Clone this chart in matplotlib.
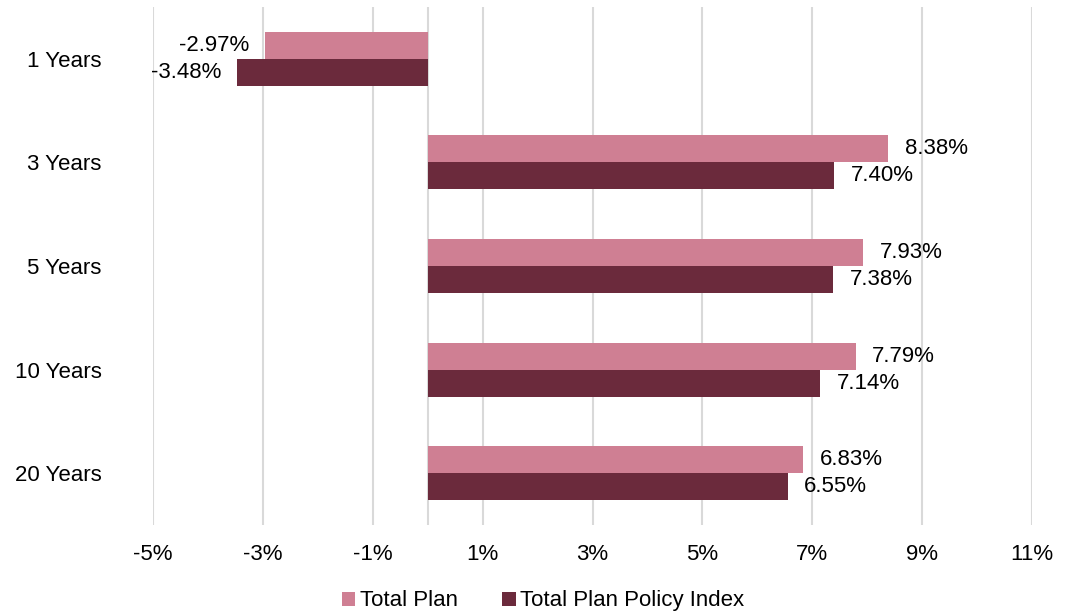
import matplotlib
matplotlib.use("Agg")
import matplotlib.pyplot as plt
import numpy as np

categories = ["1 Years", "3 Years", "5 Years", "10 Years", "20 Years"]
total_plan = [-2.97, 8.38, 7.93, 7.79, 6.83]
policy_index = [-3.48, 7.40, 7.38, 7.14, 6.55]
series_names = ["Total Plan", "Total Plan Policy Index"]
xticks = [-5, -3, -1, 1, 3, 5, 7, 9, 11]

plt.rcParams['font.family'] = ['Liberation Sans', 'DejaVu Sans']
c1 = "#CF7F93"
c2 = "#6B2A3C"
fs = 16

fig = plt.figure(figsize=(10.69, 6.13), dpi=100)
ax = fig.add_axes([153/1069, 1-525/613, (1032-153)/1069, 518/613])

y = np.arange(len(categories))
h = 0.26
b1 = ax.barh(y - h/2, total_plan, height=h, color=c1, label=series_names[0], zorder=3)
b2 = ax.barh(y + h/2, policy_index, height=h, color=c2, label=series_names[1], zorder=3)

for bars, vals in ((b1, total_plan), (b2, policy_index)):
    for bar, v in zip(bars, vals):
        yc = bar.get_y() + bar.get_height()/2
        if v >= 0:
            ax.annotate(f"{v:.2f}%", (v, yc), xytext=(12, 0), textcoords="offset points",
                        ha="left", va="center", fontsize=fs, color="#000000")
        else:
            ax.annotate(f"{v:.2f}%", (v, yc), xytext=(-11, 0), textcoords="offset points",
                        ha="right", va="center", fontsize=fs, color="#000000")

ax.set_xlim(-5, 11)
ax.set_ylim(4.5, -0.5)
ax.set_xticks(xticks)
ax.set_xticklabels([f"{t}%" for t in xticks], fontsize=fs)
ax.set_yticks(y)
ax.set_yticklabels(categories, fontsize=fs)
ax.tick_params(axis='both', length=0)
ax.tick_params(axis='y', pad=37)
ax.tick_params(axis='x', pad=14)
ax.grid(axis='x', color="#D9D9D9", linewidth=1.5, zorder=0)
ax.axvline(0, color="#D9D9D9", linewidth=1.5, zorder=1)
for s in ax.spines.values():
    s.set_visible(False)

leg = fig.legend(handles=[b1, b2], labels=series_names, loc="lower center",
                 bbox_to_anchor=(0.508, -0.03), ncol=2, frameon=False, fontsize=fs,
                 handlelength=0.6, handleheight=0.6, handletextpad=0.2, columnspacing=2.0)

fig.savefig("out.png", dpi=100)
